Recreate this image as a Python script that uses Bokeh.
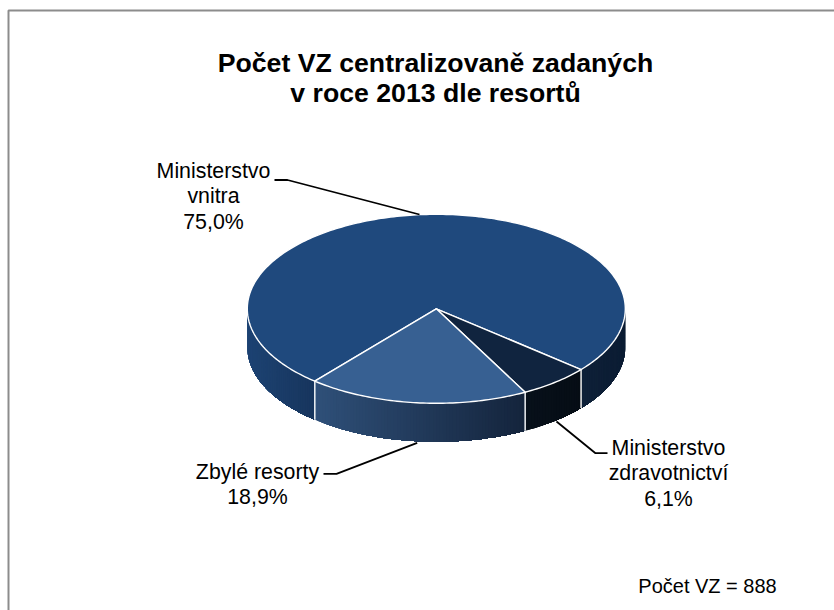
import math
from bokeh.plotting import figure
from bokeh.core.properties import value
from bokeh.embed import file_html
from bokeh.resources import INLINE

# --- data
categories = ["Ministerstvo\nvnitra", "Ministerstvo\nzdravotnictví", "Zbylé resorty"]
shares = [75.0, 6.1, 18.9]
title_lines = ["Počet VZ centralizovaně zadaných", "v roce 2013 dle resortů"]
note = "Počet VZ = 888"

# --- styles: top face, wall colour left end, wall colour right end
top_colors = ["#1F497D", "#10243F", "#376092"]
wall_left = ["#1D4373", "#07101A", "#2F5079"]
wall_right = ["#0B1C33", "#060D15", "#14243C"]
wall_mid_big = "#17355D"

CX, CY, RX, RY, DEPTH = 435.8, 308.3, 189.0, 94.5, 38.5
START = 220.0

W, H = 834, 610
p = figure(width=W, height=H, x_range=(0, W), y_range=(H, 0),
           output_backend="svg", toolbar_location=None, min_border=0,
           outline_line_color=None, background_fill_color="white")
p.axis.visible = False
p.grid.visible = False


def pt(a, dz=0.0):
    r = math.radians(a)
    return CX + RX * math.sin(r), CY - RY * math.cos(r) + dz


def hexrgb(c):
    return tuple(int(c[i:i + 2], 16) for i in (1, 3, 5))


def mix(c1, c2, t):
    a, b = hexrgb(c1), hexrgb(c2)
    return "#%02x%02x%02x" % tuple(round(a[i] + (b[i] - a[i]) * t) for i in range(3))


def strips(a0, a1, col0, col1):
    """Side wall from a0 to a1 (degrees), shaded from a0's end to a1's by x.
    Each strip reaches to the end of the wall and the next paints over it,
    so no seams show between neighbours."""
    n = max(2, int(abs(a1 - a0)))
    x0, x1 = pt(a0)[0], pt(a1)[0]
    steps = [a0 + (a1 - a0) * k / n for k in range(n + 1)]
    for i in range(n):
        rng = steps[i:]
        top = [pt(a) for a in rng]
        bot = [pt(a, DEPTH) for a in reversed(rng)]
        mx = (pt(steps[i])[0] + pt(steps[i + 1])[0]) / 2
        c = mix(col0, col1, (mx - x0) / (x1 - x0))
        p.patch([q[0] for q in top + bot], [q[1] for q in top + bot],
                fill_color=c, line_color=None)


edges = [START]
for s in shares:
    edges.append(edges[-1] + s * 3.6)

# --- walls (front half only)
for i in range(3):
    a0, a1 = edges[i], edges[i + 1]
    if i == 0:
        strips(270, a0, wall_left[0], wall_mid_big)
        strips(90, a1 - 360, wall_right[0], "#0E2038")
    else:
        strips(a1, a0, wall_left[i], wall_right[i])

# --- top faces
for i in range(3):
    a0, a1 = edges[i], edges[i + 1]
    n = max(2, int(a1 - a0))
    arc = [pt(a0 + (a1 - a0) * k / n) for k in range(n + 1)]
    p.patch([CX] + [q[0] for q in arc], [CY] + [q[1] for q in arc],
            fill_color=top_colors[i], line_color="white", line_width=1.4,
            line_join="round")

# --- white separators on the wall
for a in edges[:3]:
    q0, q1 = pt(a), pt(a, DEPTH)
    p.line([q0[0], q1[0]], [q0[1], q1[1]], line_color="white", line_width=1.4)

# --- frame
p.line([8, 8, W], [H, 10, 10], line_color="#8C8C8C", line_width=2)

# --- leader lines
leaders = [
    ([274, 287, 419], [179.5, 179.5, 214]),
    ([607, 595, 556], [452.7, 452.7, 421]),
    ([323, 336, 416.7], [473.3, 473.3, 442.3]),
]
for lx, ly in leaders:
    p.line(lx, ly, line_color="black", line_width=1.8)

FONT = value("Liberation Sans")


def text(x, y, t, size, style="normal"):
    p.text([x], [y], text=[t], text_font=FONT, text_font_size=size,
           text_font_style=style, text_align="center", text_baseline="middle",
           text_color="black")


# --- title
text(435, 62, title_lines[0], "26.67px", "bold")
text(435, 92, title_lines[1], "26.67px", "bold")

# --- labels
LH = 25.7
label_pos = [(213, 170), (668, 447), (257, 471)]
for cat, s, (x, y) in zip(categories, shares, label_pos):
    lines = cat.split("\n") + [f"{s:.1f}%".replace(".", ",")]
    for j, ln in enumerate(lines):
        text(x, y + j * LH, ln, "21.33px")

text(707, 585, note, "20px")

open("out.html", "w").write(file_html(p, INLINE))
